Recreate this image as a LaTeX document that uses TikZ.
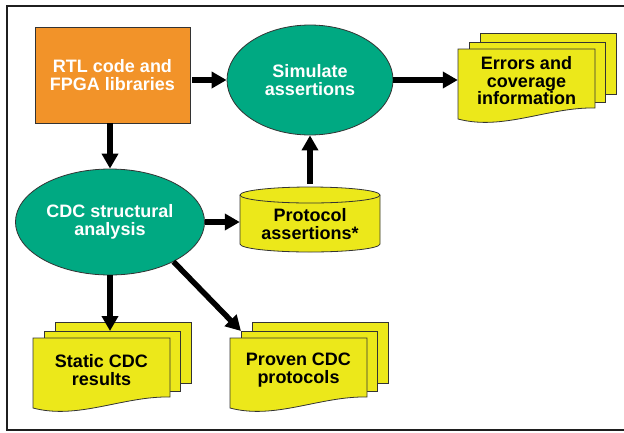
\documentclass[tikz,border=0pt]{standalone}
\usepackage{fontspec}
\setmainfont{Liberation Sans}
\usetikzlibrary{arrows.meta,shapes.geometric,calc}
\definecolor{rtlorange}{HTML}{F29329}
\definecolor{simgreen}{HTML}{00A982}
\definecolor{docyellow}{HTML}{ECE81A}
\definecolor{edge}{HTML}{333333}
\tikzset{
  lbl/.style={font=\bfseries\fontsize{18}{17.5}\selectfont, align=center},
  rtlbox/.style={rectangle, draw=edge, line width=0.8pt, fill=rtlorange, text=white, lbl},
  procell/.style={ellipse, draw=edge, line width=0.8pt, fill=simgreen, text=white, lbl},
  page/.style={draw=edge, line width=0.8pt, fill=docyellow},
  flow/.style={line width=5.5pt, -{Triangle[length=15pt,width=16pt]}},
}
\newcommand\docstack[4]{%
  \begin{scope}[shift={(#2,#3)}]
    \filldraw[page] (22,-16) rectangle (158,45);
    \filldraw[page] (11,-7) rectangle (147,53);
    \filldraw[page] (0,0) -- (137,0) -- (137,59) .. controls (90,58) and (45,82) .. (0,70) -- cycle;
    \node[lbl, text=black, minimum width=137pt, minimum height=64pt] (#1) at (68.5,32) {#4};
    \coordinate (#1-mid) at (79,-7);
    \coordinate (#1-midnw) at (11,-7);
  \end{scope}}
\begin{document}
\begin{tikzpicture}[x=1pt,y=-1pt]
\useasboundingbox (0,0) rectangle (624,432);
\fill[white] (0,0) rectangle (624,432);
\draw[line width=2.5pt, color=black!88] (626,6) -- (7,6) -- (7,430) -- (626,430);

\node[rtlbox, minimum width=155pt, minimum height=96pt] (rtl) at (112.5,75) {RTL code and\\FPGA libraries};
\node[procell, minimum width=166pt, minimum height=110pt] (sim) at (310,80) {Simulate\\assertions};
\node[procell, minimum width=176pt, minimum height=106pt] (cdc) at (110,222) {CDC structural\\analysis};

% protocol assertions cylinder
\node[minimum width=140pt, minimum height=65pt] (prot) at (310,219.5) {};
\filldraw[page] (240,195) -- (240,244) arc[start angle=180,end angle=360,x radius=70pt,y radius=8pt]
  -- (380,195) arc[start angle=0,end angle=180,x radius=70pt,y radius=8pt] -- cycle;
\draw[edge, line width=0.8pt] (240,195) arc[start angle=180,end angle=360,x radius=70pt,y radius=8pt];
\node[lbl, text=black] (protxt) at (310,224) {Protocol\\assertions*};

\docstack{err}{458}{49}{Errors and\\coverage\\information}
\docstack{stat}{33}{338}{Static CDC\\results}
\docstack{prov}{230}{338}{Proven CDC\\protocols}

\draw[flow, shorten <=2pt] (rtl.east |- sim.west) -- (sim.west);
\draw[flow] (sim.east) -- (sim.east -| err.west);
\draw[flow] (rtl.south -| cdc.north) -- (cdc.north);
\draw[flow, shorten <=3pt] (prot.north) -- (sim.south);
\draw[flow] (cdc.east) -- (cdc.east -| prot.west);
\draw[flow] (cdc.south) -- (cdc.south |- stat-mid);
\draw[flow] (cdc.-32) -- (prov-midnw);
\end{tikzpicture}
\end{document}
